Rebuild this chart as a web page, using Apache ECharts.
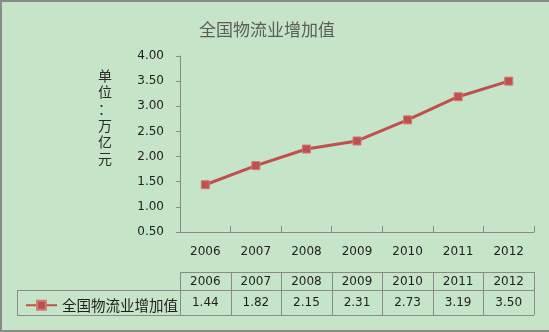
<!DOCTYPE html>
<html>
<head>
<meta charset="utf-8">
<script src="https://cdn.jsdelivr.net/npm/echarts@6/dist/echarts.min.js"></script>
<style>
  html, body { margin: 0; padding: 0; background: #c6e4c7; }
  #chart { width: 549px; height: 332px; }
</style>
</head>
<body>
<div id="chart"></div>
<script>
// Logistics value added in China, unit: trillion yuan
const years = ['2006', '2007', '2008', '2009', '2010', '2011', '2012'];
const valueAdded = [1.44, 1.82, 2.15, 2.31, 2.73, 3.19, 3.50];
const seriesName = '全国物流业增加值';
const titleText = '全国物流业增加值';
const unitLabel = ['单', '位', '：', '万', '亿', '元'];

const LINE_RED = '#c0504d';
const GRID_GRAY = '#8a8a8a';
const TEXT_DARK = '#1e1e1e';
const NUM_FONT = 'DejaVu Sans';
const CJK_FONT = 'Noto Sans CJK SC';

const chart = echarts.init(document.getElementById('chart'), null, { renderer: 'canvas' });

chart.setOption({
  backgroundColor: '#c6e4c7',
  animation: false,
  title: {
    text: titleText,
    left: 194,
    top: 16,
    textStyle: { fontFamily: CJK_FONT, fontSize: 17, fontWeight: 'normal', color: '#5c5c5c' }
  },
  grid: { left: 180, right: 15, top: 56, bottom: 100, containLabel: false },
  legend: {
    left: 20,
    top: 293,
    itemWidth: 31,
    itemHeight: 11,
    itemGap: 0,
    textStyle: { fontFamily: CJK_FONT, fontSize: 14.5, color: TEXT_DARK },
    data: [seriesName]
  },
  xAxis: {
    type: 'category',
    data: years,
    boundaryGap: true,
    axisLine: { lineStyle: { color: GRID_GRAY, width: 1 } },
    axisTick: { show: true, inside: true, length: 6, lineStyle: { color: GRID_GRAY } },
    axisLabel: { margin: 14, fontFamily: NUM_FONT, fontSize: 12, color: TEXT_DARK }
  },
  yAxis: {
    type: 'value',
    min: 0.5,
    max: 4,
    interval: 0.5,
    axisLine: { show: true, lineStyle: { color: GRID_GRAY, width: 1 } },
    axisTick: { show: true, length: 4, lineStyle: { color: GRID_GRAY } },
    splitLine: { show: false },
    axisLabel: {
      margin: 16,
      fontFamily: NUM_FONT,
      fontSize: 12,
      color: TEXT_DARK,
      formatter: v => v.toFixed(2)
    }
  },
  series: [{
    name: seriesName,
    type: 'line',
    data: valueAdded,
    symbol: 'rect',
    symbolSize: 8,
    lineStyle: { color: LINE_RED, width: 3 },
    itemStyle: { color: LINE_RED, borderColor: '#cf7a77', borderWidth: 1 }
  }]
});

// Data table under the plot, columns aligned with the category axis
const centers = years.map(y => chart.convertToPixel({ xAxisIndex: 0 }, y));
const band = centers[1] - centers[0];
const tableLeft = centers[0] - band / 2;
const tableRight = centers[centers.length - 1] + band / 2;
const rowTop = 272, rowMid = 290, rowBottom = 315, legendLeft = 17;

const graphics = [];
const hline = (x1, x2, y) => ({
  type: 'line', shape: { x1, y1: y, x2, y2: y },
  style: { stroke: GRID_GRAY, lineWidth: 1 }, silent: true
});
const vline = (x, y1, y2) => ({
  type: 'line', shape: { x1: x, y1, x2: x, y2 },
  style: { stroke: GRID_GRAY, lineWidth: 1 }, silent: true
});

graphics.push(hline(tableLeft, tableRight, rowTop + 0.5));
graphics.push(hline(legendLeft, tableRight, rowMid + 0.5));
graphics.push(hline(legendLeft, tableRight, rowBottom + 0.5));
graphics.push(vline(legendLeft + 0.5, rowMid, rowBottom));
for (let i = 0; i <= years.length; i++) {
  const x = Math.round(tableLeft + i * band) + 0.5;
  graphics.push(vline(x, rowTop, rowBottom));
}
years.forEach((y, i) => {
  graphics.push({
    type: 'text', x: centers[i], y: (rowTop + rowMid) / 2 + 0.5,
    style: { text: y, fontFamily: NUM_FONT, fontSize: 12, fill: TEXT_DARK, align: 'center', verticalAlign: 'middle' },
    silent: true
  });
  graphics.push({
    type: 'text', x: centers[i], y: (rowMid + rowBottom) / 2 + 0.5,
    style: { text: valueAdded[i].toFixed(2), fontFamily: NUM_FONT, fontSize: 12, fill: TEXT_DARK, align: 'center', verticalAlign: 'middle' },
    silent: true
  });
});

// Vertical unit caption beside the value axis
const capTop = 75.5, capStep = 16.6;
unitLabel.forEach((ch, i) => {
  graphics.push({
    type: 'text', x: 105, y: capTop + i * capStep,
    style: { text: ch, fontFamily: CJK_FONT, fontSize: 14, fill: '#2a2a2a', align: 'center', verticalAlign: 'middle' },
    silent: true
  });
});

// Frame edges
graphics.push({ type: 'rect', shape: { x: 0, y: 0, width: 549, height: 2 }, style: { fill: GRID_GRAY }, silent: true });
graphics.push({ type: 'rect', shape: { x: 0, y: 0, width: 2, height: 332 }, style: { fill: GRID_GRAY }, silent: true });
graphics.push({ type: 'rect', shape: { x: 0, y: 330, width: 549, height: 2 }, style: { fill: GRID_GRAY }, silent: true });

chart.setOption({ graphic: graphics });
</script>
</body>
</html>
